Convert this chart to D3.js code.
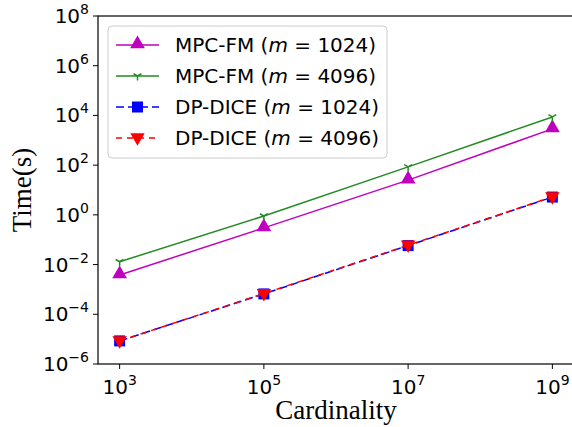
<!DOCTYPE html>
<html>
<head>
<meta charset="utf-8">
<script src="https://cdn.jsdelivr.net/npm/d3@7"></script>
<style>
  body { margin: 0; background: #fff; }
  svg { display: block; }
</style>
</head>
<body>
<div id="chart"></div>
<script>
// data
var cardinality = [1e3, 1e5, 1e7, 1e9];
var mpc1024 = [0.0038, 0.30, 25, 2880];
var mpc4096 = [0.013, 0.9, 85, 8700];
var dice1024 = [8.5e-6, 6.6e-4, 0.058, 5.2];
var dice4096 = [8.5e-6, 6.8e-4, 0.060, 5.3];
var xTickExp = [3, 5, 7, 9];
var yTickExp = [-6, -4, -2, 0, 2, 4, 6, 8];
var seriesNames = ["MPC-FM", "MPC-FM", "DP-DICE", "DP-DICE"];
var seriesM = ["1024", "4096", "1024", "4096"];

var W = 572, H = 427;
var padL = 98, padT = 16, padR = 574, padB = 364;

var svg = d3.select("#chart").append("svg")
  .attr("width", W).attr("height", H);

var x = d3.scaleLog().domain([Math.pow(10, 2.7), Math.pow(10, 9.3)]).range([padL, padR]);
var y = d3.scaleLog().domain([1e-6, 1e8]).range([padB, padT]);

// ticks
var tickFont = "DejaVu Sans";
xTickExp.forEach(function(e) {
  var px = x(Math.pow(10, e));
  svg.append("line").attr("x1", px).attr("x2", px).attr("y1", padB).attr("y2", padB + 5)
    .attr("stroke", "#000").attr("stroke-width", 1);
  var t = svg.append("text").attr("x", px).attr("y", padB + 30)
    .attr("text-anchor", "middle").attr("font-family", tickFont).attr("font-size", 20);
  t.append("tspan").text("10");
  t.append("tspan").attr("dy", -9).attr("font-size", 14).text(String(e));
});
yTickExp.forEach(function(e) {
  var py = y(Math.pow(10, e));
  svg.append("line").attr("x1", padL - 5).attr("x2", padL).attr("y1", py).attr("y2", py)
    .attr("stroke", "#000").attr("stroke-width", 1);
  var t = svg.append("text").attr("x", padL - 9).attr("y", py + 7)
    .attr("text-anchor", "end").attr("font-family", tickFont).attr("font-size", 20);
  t.append("tspan").text("10");
  t.append("tspan").attr("dy", -9).attr("font-size", 14).text(e < 0 ? "\u2212" + (-e) : String(e));
});

// spines
svg.append("rect").attr("x", padL).attr("y", padT).attr("width", padR - padL).attr("height", padB - padT)
  .attr("fill", "none").attr("stroke", "#000").attr("stroke-width", 1.2);

// axis labels
svg.append("text").attr("x", 336).attr("y", 419).attr("text-anchor", "middle")
  .attr("font-family", "Liberation Serif").attr("font-size", 27).text("Cardinality");
svg.append("text").attr("transform", "translate(31," + ((padT + padB) / 2) + ") rotate(-90)")
  .attr("text-anchor", "middle").attr("font-family", "Liberation Serif").attr("font-size", 27).text("Time(s)");

var line = d3.line().x(function(d) { return x(d[0]); }).y(function(d) { return y(d[1]); });

var series = [
  { vals: mpc1024, color: "#bf00bf", dash: null, marker: "tri" },
  { vals: mpc4096, color: "#228b22", dash: null, marker: "y" },
  { vals: dice1024, color: "#0000ff", dash: "8,4", marker: "sq" },
  { vals: dice4096, color: "#ff0000", dash: "6,5", marker: "tridown" }
];

function drawMarker(g, kind, cx, cy, color) {
  if (kind == "tri") {
    g.append("path").attr("d", d3.symbol().type(d3.symbolTriangle).size(95)())
      .attr("transform", "translate(" + cx + "," + (cy - 1) + ")").attr("fill", color);
  } else if (kind == "tridown") {
    g.append("path").attr("d", d3.symbol().type(d3.symbolTriangle).size(90)())
      .attr("transform", "translate(" + cx + "," + (cy - 0.5) + ") rotate(180)").attr("fill", color);
  } else if (kind == "sq") {
    g.append("rect").attr("x", cx - 5.5).attr("y", cy - 5.5).attr("width", 11).attr("height", 11)
      .attr("fill", color);
  } else {
    var s = 4.5;
    g.append("path")
      .attr("d", "M" + cx + "," + cy + "L" + cx + "," + (cy + s) +
        "M" + cx + "," + cy + "L" + (cx - s * 0.87) + "," + (cy - s * 0.5) +
        "M" + cx + "," + cy + "L" + (cx + s * 0.87) + "," + (cy - s * 0.5))
      .attr("stroke", color).attr("stroke-width", 1.5).attr("fill", "none");
  }
}

series.forEach(function(s) {
  var pts = cardinality.map(function(c, i) { return [c, s.vals[i]]; });
  var g = svg.append("g");
  g.append("path").datum(pts).attr("d", line).attr("fill", "none")
    .attr("stroke", s.color).attr("stroke-width", 1.5)
    .attr("stroke-dasharray", s.dash);
  pts.forEach(function(p) { drawMarker(g, s.marker, x(p[0]), y(p[1]), s.color); });
});

// legend
var lg = svg.append("g");
lg.append("rect").attr("x", 108).attr("y", 26).attr("width", 279).attr("height", 132).attr("rx", 4)
  .attr("fill", "#fff").attr("fill-opacity", 0.8).attr("stroke", "#ccc").attr("stroke-width", 1);
var rowY = [45, 76, 107, 138];
series.forEach(function(s, i) {
  var yy = rowY[i];
  lg.append("line").attr("x1", 116).attr("x2", 159).attr("y1", yy).attr("y2", yy)
    .attr("stroke", s.color).attr("stroke-width", 1.5).attr("stroke-dasharray", s.dash);
  drawMarker(lg, s.marker, 137.5, yy, s.color);
  var t = lg.append("text").attr("x", 175).attr("y", yy + 7)
    .attr("font-family", "DejaVu Sans").attr("font-size", 20);
  t.append("tspan").text(seriesNames[i] + " (");
  t.append("tspan").attr("font-style", "italic").text("m");
  t.append("tspan").text(" = " + seriesM[i] + ")");
});
</script>
</body>
</html>
